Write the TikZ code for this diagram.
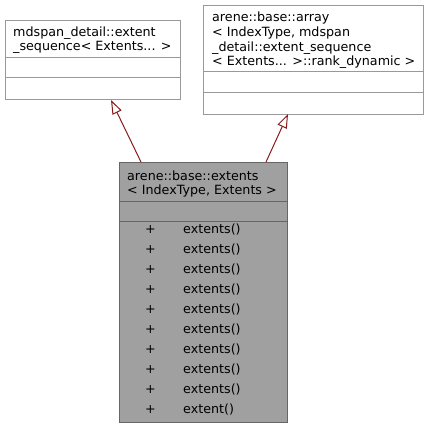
\documentclass[tikz,border=0pt]{standalone}
\usepackage{fontspec}
\setmainfont{DejaVu Sans}
\usetikzlibrary{arrows.meta}
\definecolor{linkred}{RGB}{139,26,26}
\definecolor{framegray}{RGB}{153,153,153}
\definecolor{fillgray}{RGB}{160,160,160}
\definecolor{darkframe}{RGB}{102,102,102}

\begin{document}
\begin{tikzpicture}[x=1bp,y=-1bp,
    classbox/.style={draw=framegray, line width=1bp, fill=white, inner sep=0pt, anchor=north west},
    rowline/.style={draw=framegray, line width=1bp},
    txt/.style={anchor=base west, inner sep=0pt, font=\fontsize{12.75}{14.3}\selectfont},
    inherit/.style={draw=linkred, line width=1bp, -{Triangle[open, length=14bp, width=10bp]}}]
    \useasboundingbox (0,0) rectangle (429,428);

    % Base classes
    \node[classbox, minimum width=175bp, minimum height=79bp] (seq) at (5,20) {};
    \draw[rowline] (5,57) -- (180,57);
    \draw[rowline] (5,77) -- (180,77);
    \node[txt] (seqA) at (13,36) {mdspan\_detail::extent};
    \node[txt] (seqB) at (13,50) {\_sequence< Extents... >};

    \node[classbox, minimum width=220bp, minimum height=109bp] (arr) at (203,5) {};
    \draw[rowline] (203,71) -- (423,71);
    \draw[rowline] (203,92) -- (423,92);
    \node[txt] (arrA) at (212,21) {arene::base::array};
    \node[txt] (arrB) at (212,36) {< IndexType, mdspan};
    \node[txt] (arrC) at (212,51) {\_detail::extent\_sequence};
    \node[txt] (arrD) at (212,65) {< Extents... >::rank\_dynamic >};

    % Derived class
    \node[classbox, draw=darkframe, fill=fillgray, minimum width=168bp, minimum height=260bp] (ext) at (119,162) {};
    \draw[rowline, darkframe] (119,201) -- (287,201);
    \draw[rowline, darkframe] (119,221) -- (287,221);
    \node[txt] (extA) at (127,180) {arene::base::extents};
    \node[txt] (extB) at (127,194) {< IndexType, Extents >};

    % Members
    \foreach \i in {0,...,9}
        \node[txt] (plus\i) at (145,233+20*\i) {+};
    \foreach \i in {0,...,8}
        \node[txt] (ctor\i) at (183,233+20*\i) {extents()};
    \node[txt] (getter) at (183,413) {extent()};

    % Inheritance
    \coordinate (fromL) at (141,162);
    \coordinate (toL) at (111,100);
    \coordinate (fromR) at (266,162);
    \coordinate (toR) at (288,114);
    \draw[inherit] (fromL) -- (toL);
    \draw[inherit] (fromR) -- (toR);
\end{tikzpicture}
\end{document}
